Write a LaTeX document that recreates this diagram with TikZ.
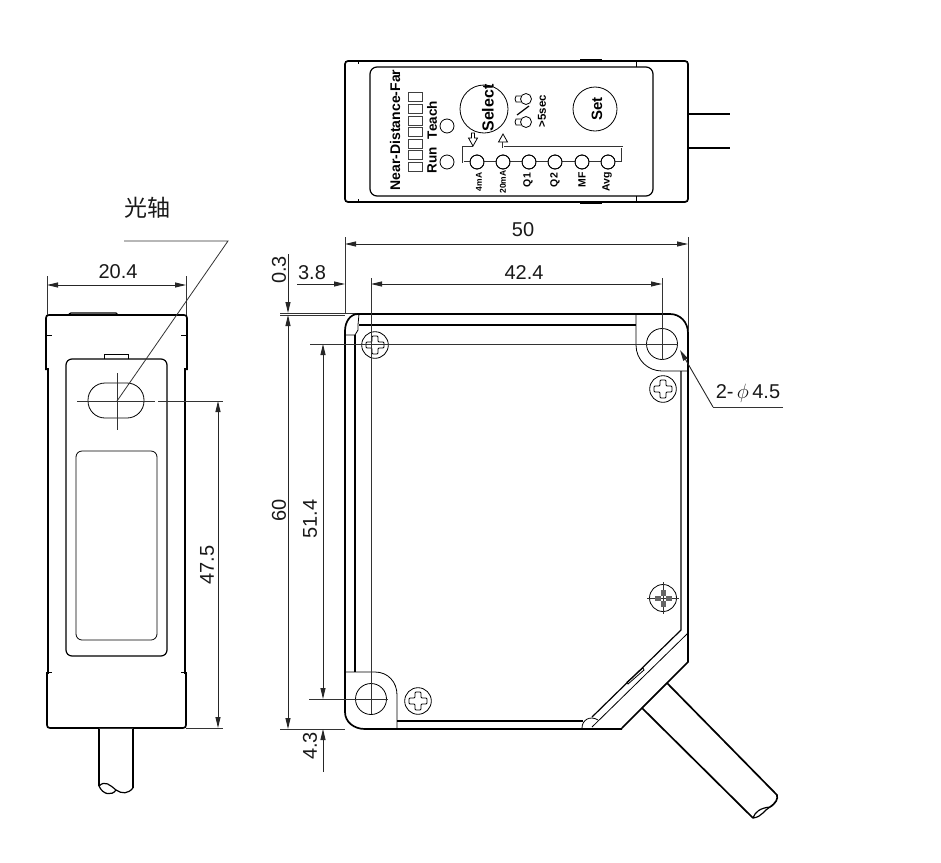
\documentclass[tikz,border=0pt]{standalone}
\usepackage{fontspec}
\setmainfont{Liberation Sans}
\newfontfamily\cjk{Noto Sans CJK SC}
\usepackage{tikz}
\usetikzlibrary{arrows.meta}
\usetikzlibrary{positioning}
\tikzset{screw/.pic={
\draw[thin1] (0,0) circle (13.3pt);
\draw[thin1,rounded corners=1pt] (-9,-3) -- (-3,-3) -- (-3,-9) -- (3,-9) -- (3,-3) -- (9,-3) -- (9,3) -- (3,3) -- (3,9) -- (-3,9) -- (-3,3) -- (-9,3) -- cycle;
}}
\begin{document}
\begin{tikzpicture}
[
x=1pt, y=-1pt,
thin1/.style={draw=black, line width=0.8pt},
thick1/.style={draw=black, line width=1.7pt},
mid1/.style={draw=black, line width=1.2pt},
dim/.style={draw=black!85, line width=0.9pt, {Triangle[length=11pt,width=5pt]}-{Triangle[length=11pt,width=5pt]}},
dimend/.style={draw=black!85, line width=0.9pt, -{Triangle[length=11pt,width=5pt]}},
ext/.style={draw=black!80, line width=0.8pt},
lab/.style={font=\fontsize{20}{22}\selectfont, text=black!90, inner sep=0},
sq/.style={rectangle, draw=black!75, line width=0.7pt, minimum width=14, minimum height=9.5, inner sep=0},
c/.style={circle, draw=black, line width=0.8pt, minimum size=14, inner sep=0},
pipe/.style={draw=black!80, line width=2.2pt, postaction={draw=white, line width=0.9pt}},
pan/.style={font=\bfseries\fontsize{11}{12}\selectfont, inner sep=0, rotate=90}
]
\useasboundingbox (0,0) rectangle (941,862);

% top view
\draw[thick1,rounded corners=3pt] (345,61) rectangle (688,202);
\draw[mid1,rounded corners=7pt] (370,67) rectangle (653,196);
\draw[thin1] (358,61) -- (358,64) (358,199) -- (358,202) (636,61) -- (636,67) (636,196) -- (636,202);
\draw[thick1] (580,60) -- (602,60) (580,203) -- (602,203);
\draw[mid1] (688,114) -- (730,114) (688,148) -- (730,148);
\draw[thin1] (688,114) -- (688,148);

\node[pan] (far) at (395,130) {\fontsize{14}{15}\selectfont Near-Distance-Far};
\node[sq] (s1) at (415,97) {};
\node[sq] (s2) at (415,109) {};
\node[sq] (s3) at (415,121) {};
\node[sq] (s4) at (415,132) {};
\node[sq] (s5) at (415,144) {};
\node[sq] (s6) at (415,155) {};
\node[sq] (s7) at (415,167) {};
\node[c] (teach) at (447,126) {};
\node[c] (run) at (447,162) {};
\node[pan] (teachtxt) at (432,120) {\fontsize{13.5}{14}\selectfont Teach};
\node[pan] (runtxt) at (432,160) {\fontsize{13.5}{14}\selectfont Run};

\node[circle, thin1, minimum size=48, inner sep=0] (sel) at (484,109) {};
\node[pan] at (488,108) {\fontsize{16}{17}\selectfont Select};
\node[circle, thin1, minimum size=44, inner sep=0] (set) at (595,109) {};
\node[pan] at (597,109) {\fontsize{15}{16}\selectfont Set};
\node[circle, thin1, minimum size=11, inner sep=0] (on1) at (526,99) {};
\node[circle, thin1, minimum size=11, inner sep=0] (on2) at (526,122) {};
\draw[thin1] (521,96) -- (516,96) -- (515,99) -- (516,102) -- (521,102);
\draw[thin1] (521,119) -- (516,119) -- (515,122) -- (516,125) -- (521,125);
\draw[mid1] (517,115) -- (529,106);
\node[pan] (sec) at (542,111) {\fontsize{11.5}{12}\selectfont >5sec};

\node[c] (l1) at (477,162) {};
\node[c] (l2) at (503,162) {};
\node[c] (l3) at (529,162) {};
\node[c] (l4) at (555,162) {};
\node[c] (l5) at (582,162) {};
\node[c] (l6) at (608,162) {};
\draw[pipe] (l1) -- (l2);
\draw[pipe] (l2) -- (l3);
\draw[pipe] (l3) -- (l4);
\draw[pipe] (l4) -- (l5);
\draw[pipe] (l5) -- (l6);
\draw[pipe] (l1.west) -- (463,162) -- (463,147) -- (473,147) -- (473,145);
\draw[pipe] (l6.east) -- (622,162) -- (622,147) -- (503,147) -- (503,141);
\node[c] at (l1) {};
\node[c] at (l2) {};
\node[c] at (l3) {};
\node[c] at (l4) {};
\node[c] at (l5) {};
\node[c] at (l6) {};
\draw[thin1,fill=white] (473,146) -- (468.5,138) -- (471.5,138) -- (471.5,133) -- (474.5,133) -- (474.5,138) -- (477.5,138) -- cycle;
\draw[thin1,fill=white] (503,134) -- (498.5,142) -- (507.5,142) -- cycle;
\node[pan] (a1) at (479,182) {\fontsize{8.5}{9}\selectfont 4mA};
\node[pan] (a2) at (503,182) {\fontsize{8.5}{9}\selectfont 20mA};
\node[pan] (a3) at (528,180) {\fontsize{10.5}{11}\selectfont Q1};
\node[pan] (a4) at (555,180) {\fontsize{10.5}{11}\selectfont Q2};
\node[pan] (a5) at (582,180) {\fontsize{10.5}{11}\selectfont MF};
\node[pan] (a6) at (607,182) {\fontsize{10.5}{11}\selectfont Avg};

% side view
\draw[thick1] (46,370) -- (46,318) .. controls (46,316) and (47,315) .. (49,315) -- (184,315) .. controls (186,315) and (187,316) .. (187,318) -- (187,370);
\draw[thick1] (48,368) -- (48,674);
\draw[thick1] (185,368) -- (185,674);
\draw[thick1] (47,672) -- (47,725) .. controls (47,727) and (48,728) .. (50,728) -- (183,728) .. controls (185,728) and (186,727) .. (186,725) -- (186,672);
\draw[thin1] (47,335) -- (52,335) (181,335) -- (186,335) (47,672) -- (52,672) (181,672) -- (186,672);
\draw[mid1] (69,314) -- (71,313) -- (116,313) -- (118,315);
\draw[mid1,rounded corners=6pt] (66,359) rectangle (167,656);
\draw[thin1] (104,359) -- (104,354) -- (128,354) -- (128,359);
\draw[thin1,rounded corners=6pt] (76,451) rectangle (157,640);
\draw[thin1,rounded corners=17pt] (88,383) rectangle (144,418);
\draw[ext] (117,373) -- (117,430);
\draw[ext] (77,401) -- (155,401);
\draw[ext] (158,401) -- (223,401);
\draw[ext] (117,401) -- (228,241) -- (124,241);
\node[lab, font=\cjk\fontsize{23}{25}\selectfont] (axis) at (147,208) {光轴};

\draw[ext] (47,276) -- (47,315);
\draw[ext] (186,276) -- (186,315);
\draw[dim] (47,285) -- (186,285);
\node[lab] (w) at (118,272) {20.4};
\draw[ext] (186,728) -- (223,728);
\draw[dim] (218,401) -- (218,728);
\node[lab,rotate=90] (h2) at (207,565) {47.5};

\draw[mid1] (99,728) -- (99,786) (133,728) -- (133,788);
\draw[ext] (99,728) -- (133,728);
\draw[mid1] (99,786) .. controls (105,780) and (110,785) .. (116,790) .. controls (122,794) and (128,794) .. (133,788);
\draw[mid1] (99,786) .. controls (103,795) and (112,796) .. (116,790);

% main view
\draw[ext] (280,313) -- (600,313);
\draw[thick1] (622,728) -- (688,662) -- (688,333) .. controls (688,322) and (680,314) .. (670,314) -- (358,314) .. controls (350,314) and (345,322) .. (345,331) -- (345,712) .. controls (345,722) and (354,729) .. (365,729) -- (622,729);
\draw[mid1] (355,335) -- (355,672);
\draw[mid1] (359,325) -- (636,325);
\draw[thin1] (359,314) -- (358,325) -- (358,330) -- (355,335) -- (345,335);
\draw[thin1] (636,314) -- (636,345) .. controls (636,360) and (648,371) .. (662,371) -- (688,371);
\draw[mid1] (681,371) -- (681,630) -- (592,717);
\draw[thin1] (688,633) -- (592,727);
\draw[thin1] (345,672) -- (375,672) .. controls (388,672) and (397,682) .. (397,695) -- (397,729);
\draw[mid1] (397,721) -- (583,721);
\draw[thin1] (582,728) .. controls (582,720) and (590,715) .. (598,720);
\draw[thin1] (627,682) -- (643,668) -- (644,670) -- (628,684) -- cycle;

\draw[thick1] (667,683) -- (777,795) .. controls (778,799) and (776,803) .. (770,807);
\draw[thick1] (642,708) -- (753,818);
\draw[thin1] (667,683) -- (642,708);
\draw[mid1] (753,818) .. controls (755,812) and (760,808) .. (770,807);
\draw[mid1] (753,818) .. controls (762,817) and (764,810) .. (770,807);

\draw[thin1] (662,344) circle (15.5pt);
\draw[thin1] (371,699) circle (15.5pt);
\pic at (375,345) {screw};
\pic at (663,389) {screw};
\pic at (418,701) {screw};
\draw[thin1] (663,598) circle (13.5pt);
\draw[ext] (663,582) -- (663,614) (647,598) -- (679,598);
\draw[fill=black!60,draw=black!60,line width=0.5pt] (661,590) rectangle (665,595) (661,601) rectangle (665,606) (655,596) rectangle (660,600) (666,596) rectangle (671,600);

\draw[ext] (345,237) -- (345,314);
\draw[ext] (688,237) -- (688,332);
\draw[dim] (345,244) -- (688,244);
\node[lab] (d50) at (523,230) {50};

\draw[ext] (371,278) -- (371,714);
\draw[ext] (662,278) -- (662,360);
\draw[dimend] (297,284) -- (345,284);
\draw[dim] (371,284) -- (662,284);
\node[lab] (d38) at (312,273) {3.8};
\node[lab] (d424) at (524,273) {42.4};

\draw[dimend] (288,254) -- (288,313);
\draw[dim] (288,315) -- (288,729);
\draw[ext] (280,315) -- (345,315);
\draw[ext] (280,729) -- (345,729);
\node[lab,rotate=90] (d03) at (279,270) {0.3};
\node[lab,rotate=90] (d60) at (279,510) {60};

\draw[ext] (310,344) -- (678,344);
\draw[ext] (309,699) -- (388,699);
\draw[dim] (323,344) -- (323,699);
\draw[dimend] (323,772) -- (323,729);
\node[lab,rotate=90] (d514) at (310,519) {51.4};
\node[lab,rotate=90] (d43) at (310,746) {4.3};

\draw[ext] (783,407) -- (713,407);
\draw[dimend] (713,407) -- (680,350);
\node[lab] (hole) at (748,393) {2-\,$\phi$\,4.5};
\end{tikzpicture}
\end{document}
